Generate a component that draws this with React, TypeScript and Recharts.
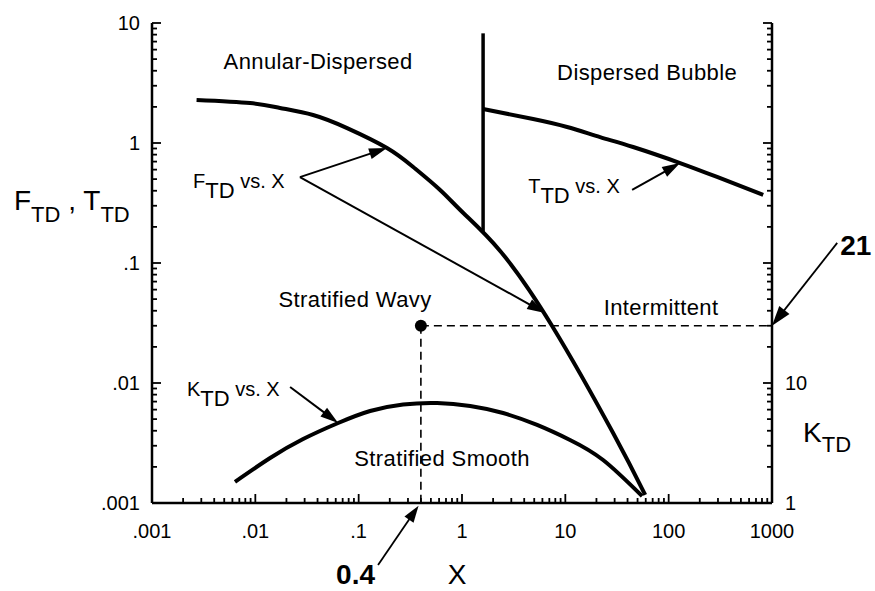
import React from 'react';
import { LineChart, Line, XAxis, YAxis, ReferenceLine, ReferenceDot, Label } from 'recharts';

const FONT = '"Liberation Sans", Arial, Helvetica, sans-serif';

// axis decades and their printed labels
const xDecades = [0.001, 0.01, 0.1, 1, 10, 100, 1000];
const xDecadeLabels = ['.001', '.01', '.1', '1', '10', '100', '1000'];
const fDecades = [0.001, 0.01, 0.1, 1, 10];
const fDecadeLabels = ['.001', '.01', '.1', '1', '10'];
const kDecades = [1, 10, 100, 1000, 10000];
const kDecadeLabels = ['1', '10', '', '', ''];
const minorSteps = [1, 2, 3, 4, 5, 6, 7, 8, 9];

// F_TD vs X (annular / stratified boundary)
const fCurveX = [0.0027, 0.0089, 0.0173, 0.0362, 0.0773, 0.188, 0.337, 0.614, 1.03, 2.34, 7.45, 29, 59.3];
const fCurveY = [2.28, 2.15, 1.96, 1.71, 1.33, 0.908, 0.631, 0.406, 0.261, 0.126, 0.0299, 0.00383, 0.00117];

// T_TD vs X (dispersed bubble boundary)
const tCurveX = [1.6, 4.88, 10.4, 21.7, 45.3, 129, 294, 822];
const tCurveY = [1.92, 1.585, 1.36, 1.12, 0.926, 0.681, 0.521, 0.369];

// K_TD vs X (right axis)
const kCurveX = [0.00635, 0.0139, 0.029, 0.0633, 0.129, 0.269, 0.574, 1.2, 2.5, 5.33, 11.1, 23.2, 55.4];
const kCurveY = [1.5, 2.37, 3.41, 4.64, 5.84, 6.62, 6.81, 6.43, 5.62, 4.47, 3.35, 2.28, 1.14];

// vertical boundary at X = 1.6
const wallX = [1.6, 1.6];
const wallY = [0.18, 8.2];

// operating point
const pointX = 0.4;
const pointF = 0.03;

const zip = (xs: number[], ys: number[]) => xs.map((x, i) => ({ x, y: ys[i] }));
const fData = zip(fCurveX, fCurveY);
const tData = zip(tCurveX, tCurveY);
const kData = zip(kCurveX, kCurveY);
const wallData = zip(wallX, wallY);

const allTicks = (decades: number[]) =>
  decades.slice(0, -1).flatMap((d) => minorSteps.map((m) => +(d * m).toPrecision(3))).concat(decades[decades.length - 1]);

const xTicks = allTicks(xDecades);
const fTicks = allTicks(fDecades);
const kTicks = allTicks(kDecades);

const findDecade = (decades: number[], v: number) => decades.findIndex((d) => Math.abs(d - v) / d < 1e-6);

const BottomTick = (p: any) => {
  const i = findDecade(xDecades, p.payload.value);
  return (
    <g>
      <line x1={p.x} y1={p.y} x2={p.x} y2={p.y - (i >= 0 ? 9 : 5)} stroke="#000" strokeWidth={1.8} />
      {i >= 0 && (
        <text x={p.x} y={p.y + 35} textAnchor="middle" fontSize={20} fontFamily={FONT} fill="#000">
          {xDecadeLabels[i]}
        </text>
      )}
    </g>
  );
};

const TopTick = (p: any) => {
  const i = findDecade(xDecades, p.payload.value);
  return <line x1={p.x} y1={p.y} x2={p.x} y2={p.y + (i >= 0 ? 9 : 5)} stroke="#000" strokeWidth={1.8} />;
};

const LeftTick = (p: any) => {
  const i = findDecade(fDecades, p.payload.value);
  return (
    <g>
      <line x1={p.x} y1={p.y} x2={p.x + (i >= 0 ? 9 : 5)} y2={p.y} stroke="#000" strokeWidth={1.8} />
      {i >= 0 && (
        <text x={p.x - 12} y={p.y + 7} textAnchor="end" fontSize={20} fontFamily={FONT} fill="#000">
          {fDecadeLabels[i]}
        </text>
      )}
    </g>
  );
};

const RightTick = (p: any) => {
  const i = findDecade(kDecades, p.payload.value);
  return (
    <g>
      <line x1={p.x} y1={p.y} x2={p.x - (i >= 0 ? 9 : 5)} y2={p.y} stroke="#000" strokeWidth={1.8} />
      {i >= 0 && kDecadeLabels[i] && (
        <text x={p.x + 13} y={p.y + 7} textAnchor="start" fontSize={20} fontFamily={FONT} fill="#000">
          {kDecadeLabels[i]}
        </text>
      )}
    </g>
  );
};

const arrow = (head = 18, half = 5.5, width = 2) => (p: any) => {
  const { x1, y1, x2, y2 } = p;
  const len = Math.hypot(x2 - x1, y2 - y1) || 1;
  const ux = (x2 - x1) / len;
  const uy = (y2 - y1) / len;
  const bx = x2 - ux * head;
  const by = y2 - uy * head;
  return (
    <g>
      <line x1={x1} y1={y1} x2={bx + ux * 2} y2={by + uy * 2} stroke="#000" strokeWidth={width} />
      <polygon
        points={`${x2},${y2} ${bx - uy * half},${by + ux * half} ${bx + uy * half},${by - ux * half}`}
        fill="#000"
      />
    </g>
  );
};

const centerText = (txt: string) => (p: any) => (
  <text
    x={p.cx}
    y={p.cy}
    textAnchor="middle"
    dominantBaseline="central"
    fontSize={22}
    letterSpacing={0.4}
    fontFamily={FONT}
    fill="#000"
  >
    {txt}
  </text>
);

const subText = (main: string, sub: string) => (p: any) => (
  <text x={p.cx} y={p.cy} fontFamily={FONT} fill="#000">
    <tspan fontSize={20}>{main}</tspan>
    <tspan fontSize={22} dy={10}>{sub}</tspan>
    <tspan fontSize={20} dy={-10}>{' vs. X'}</tspan>
  </text>
);

const boldText = (txt: string, dx: number, dy: number, anchor: 'start' | 'end') => (p: any) => (
  <text x={p.cx + dx} y={p.cy + dy} textAnchor={anchor} fontSize={28} fontWeight="bold" fontFamily={FONT} fill="#000">
    {txt}
  </text>
);

const LeftTitle = (p: any) => {
  const vb = p.viewBox;
  return (
    <text x={vb.x - 78} y={vb.y + 187} fontFamily={FONT} fill="#000">
      <tspan fontSize={28}>F</tspan>
      <tspan fontSize={22} dy={12}>TD</tspan>
      <tspan fontSize={28} dy={-12}>{' , T'}</tspan>
      <tspan fontSize={22} dy={12}>TD</tspan>
    </text>
  );
};

const RightTitle = (p: any) => {
  const vb = p.viewBox;
  return (
    <text x={vb.x + 31} y={vb.y + 419} fontFamily={FONT} fill="#000">
      <tspan fontSize={28}>K</tspan>
      <tspan fontSize={22} dy={10}>TD</tspan>
    </text>
  );
};

const BottomTitle = (p: any) => {
  const vb = p.viewBox;
  return (
    <text x={vb.x + 305} y={vb.y + 81} textAnchor="middle" fontSize={28} fontFamily={FONT} fill="#000">
      X
    </text>
  );
};

export default function App() {
  const axisLine = { stroke: '#000', strokeWidth: 2.5 };
  return (
    <div style={{ position: 'absolute', left: 0, top: 0, width: 875, height: 591, background: '#fff' }}>
      <LineChart width={875} height={591} margin={{ top: 23, right: 43, bottom: 58, left: 92 }}>
        <XAxis
          dataKey="x"
          type="number"
          scale="log"
          domain={[0.001, 1000]}
          ticks={xTicks}
          interval={0}
          tick={<BottomTick />}
          tickLine={false}
          tickSize={0}
          tickMargin={0}
          axisLine={axisLine}
          height={30}
        >
          <Label content={<BottomTitle />} />
        </XAxis>
        <XAxis
          xAxisId="top"
          orientation="top"
          dataKey="x"
          type="number"
          scale="log"
          domain={[0.001, 1000]}
          ticks={xTicks}
          interval={0}
          tick={<TopTick />}
          tickLine={false}
          tickSize={0}
          tickMargin={0}
          axisLine={axisLine}
          height={0}
        />
        <YAxis
          type="number"
          scale="log"
          domain={[0.001, 10]}
          ticks={fTicks}
          interval={0}
          tick={<LeftTick />}
          tickLine={false}
          tickSize={0}
          tickMargin={0}
          axisLine={axisLine}
          width={60}
        >
          <Label content={<LeftTitle />} />
        </YAxis>
        <YAxis
          yAxisId="right"
          orientation="right"
          type="number"
          scale="log"
          domain={[1, 10000]}
          ticks={kTicks}
          interval={0}
          tick={<RightTick />}
          tickLine={false}
          tickSize={0}
          tickMargin={0}
          axisLine={axisLine}
          width={60}
        >
          <Label content={<RightTitle />} />
        </YAxis>

        <Line data={fData} dataKey="y" type="natural" stroke="#000" strokeWidth={4} dot={false} isAnimationActive={false} />
        <Line data={tData} dataKey="y" type="natural" stroke="#000" strokeWidth={4} dot={false} isAnimationActive={false} />
        <Line data={wallData} dataKey="y" type="linear" stroke="#000" strokeWidth={3.5} dot={false} isAnimationActive={false} />
        <Line
          data={kData}
          dataKey="y"
          yAxisId="right"
          type="natural"
          stroke="#000"
          strokeWidth={4}
          dot={false}
          isAnimationActive={false}
        />

        {/* dashed guides to the operating point */}
        <ReferenceLine
          segment={[{ x: pointX, y: pointF }, { x: 1000, y: pointF }]}
          stroke="#000"
          strokeWidth={1.6}
          strokeDasharray="8 5"
          ifOverflow="visible"
        />
        <ReferenceLine
          segment={[{ x: pointX, y: pointF }, { x: pointX, y: 0.001 }]}
          stroke="#000"
          strokeWidth={1.6}
          strokeDasharray="8 5"
          ifOverflow="visible"
        />
        <ReferenceDot x={pointX} y={pointF} r={6} fill="#000" stroke="none" ifOverflow="visible" />

        {/* pointer arrows */}
        <ReferenceLine segment={[{ x: 0.027, y: 0.52 }, { x: 0.188, y: 0.908 }]} shape={arrow()} ifOverflow="visible" />
        <ReferenceLine segment={[{ x: 0.027, y: 0.52 }, { x: 6.37, y: 0.0383 }]} shape={arrow()} ifOverflow="visible" />
        <ReferenceLine segment={[{ x: 44.3, y: 0.406 }, { x: 129, y: 0.681 }]} shape={arrow()} ifOverflow="visible" />
        <ReferenceLine
          yAxisId="right"
          segment={[{ x: 0.0217, y: 9.26 }, { x: 0.0633, y: 4.64 }]}
          shape={arrow()}
          ifOverflow="visible"
        />
        <ReferenceLine
          segment={[{ x: 4276, y: 0.147 }, { x: 1000, y: pointF }]}
          shape={arrow(20, 6.5, 1.8)}
          ifOverflow="visible"
        />
        <ReferenceLine
          segment={[{ x: 0.154, y: 0.000304 }, { x: 0.38, y: 0.00095 }]}
          shape={arrow(17, 5.5, 1.8)}
          ifOverflow="visible"
        />

        {/* region names */}
        <ReferenceDot x={0.0405} y={4.82} r={0} shape={centerText('Annular-Dispersed')} ifOverflow="visible" />
        <ReferenceDot x={61.9} y={3.9} r={0} shape={centerText('Dispersed Bubble')} ifOverflow="visible" />
        <ReferenceDot x={0.0923} y={0.0501} r={0} shape={centerText('Stratified Wavy')} ifOverflow="visible" />
        <ReferenceDot x={84.5} y={0.0422} r={0} shape={centerText('Intermittent')} ifOverflow="visible" />
        <ReferenceDot x={0.641} y={0.00237} r={0} shape={centerText('Stratified Smooth')} ifOverflow="visible" />

        {/* curve names */}
        <ReferenceDot x={0.0025} y={0.422} r={0} shape={subText('F', 'TD')} ifOverflow="visible" />
        <ReferenceDot x={4.37} y={0.383} r={0} shape={subText('T', 'TD')} ifOverflow="visible" />
        <ReferenceDot x={0.00218} y={0.0078} r={0} shape={subText('K', 'TD')} ifOverflow="visible" />

        {/* values called out */}
        <ReferenceDot x={4276} y={0.147} r={0} shape={boldText('21', 3, 12, 'start')} ifOverflow="visible" />
        <ReferenceDot x={0.154} y={0.000304} r={0} shape={boldText('0.4', -3, 19, 'end')} ifOverflow="visible" />
      </LineChart>
    </div>
  );
}
